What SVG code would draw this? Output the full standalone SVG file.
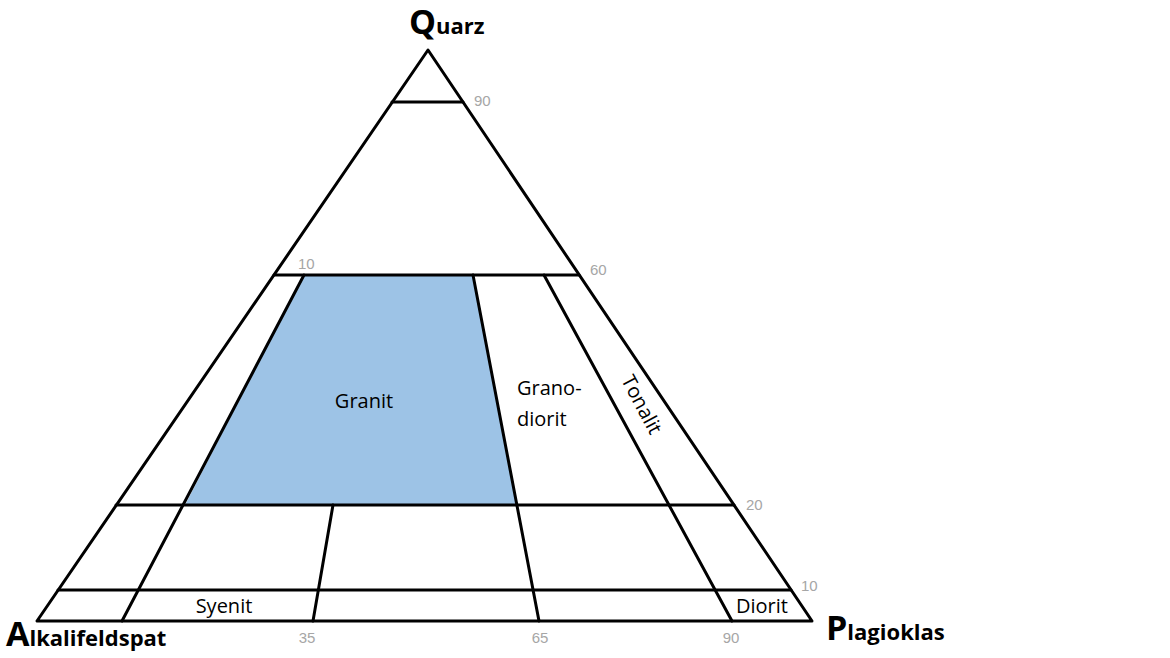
<svg xmlns="http://www.w3.org/2000/svg" width="1170" height="658" viewBox="0 0 1170 658">
<style>
.l{stroke:#000;stroke-width:3;fill:none;stroke-linecap:round;stroke-linejoin:round}
.n{font-family:"Liberation Sans","Open Sans",sans-serif;font-size:15px;fill:#a6a6a6}
.t{font-family:"Open Sans","Liberation Sans",sans-serif;font-size:20px;fill:#000}
.b{font-family:"Open Sans","Liberation Sans",sans-serif;font-weight:bold;fill:#000}
</style>
<rect width="1170" height="658" fill="#fff"/>
<g id="granit"><polygon points="304,275 473,275 516,505 185,505" fill="#9dc3e6"/><text class="t" x="364" y="408" text-anchor="middle">Granit</text></g>
<g id="connectors">
<polygon class="l" points="428,50 37,621 812,621"/>
<line class="l" x1="392" y1="102" x2="463" y2="102"/>
<line class="l" x1="274" y1="275" x2="579" y2="275"/>
<line class="l" x1="116" y1="505" x2="734" y2="505"/>
<line class="l" x1="58" y1="590" x2="791" y2="590"/>
<line class="l" x1="304" y1="275" x2="122" y2="621"/>
<line class="l" x1="473" y1="275" x2="539" y2="621"/>
<line class="l" x1="333" y1="505" x2="313" y2="621"/>
<line class="l" x1="544" y1="275" x2="732" y2="621"/>
</g>
<g id="labels">
<text class="n" x="474" y="106">90</text>
<text class="n" x="298" y="269">10</text>
<text class="n" x="590" y="275">60</text>
<text class="n" x="746" y="510">20</text>
<text class="n" x="801" y="591">10</text>
<text class="n" x="307" y="643" text-anchor="middle">35</text>
<text class="n" x="540" y="643" text-anchor="middle">65</text>
<text class="n" x="731" y="643" text-anchor="middle">90</text>
<text class="t" x="517" y="395">Grano-</text>
<text class="t" x="517" y="426">diorit</text>
<text class="t" x="641" y="411" text-anchor="middle" transform="rotate(62 641 405)">Tonalit</text>
<text class="t" x="224" y="613" text-anchor="middle">Syenit</text>
<text class="t" x="762" y="613" text-anchor="middle">Diorit</text>
<text class="b" x="409" y="34"><tspan font-size="34">Q</tspan><tspan font-size="22">uarz</tspan></text>
<text class="b" x="6" y="646"><tspan font-size="34">A</tspan><tspan font-size="22">lkalifeldspat</tspan></text>
<text class="b" x="826" y="640"><tspan font-size="34">P</tspan><tspan font-size="22">lagioklas</tspan></text>
</g>
</svg>
